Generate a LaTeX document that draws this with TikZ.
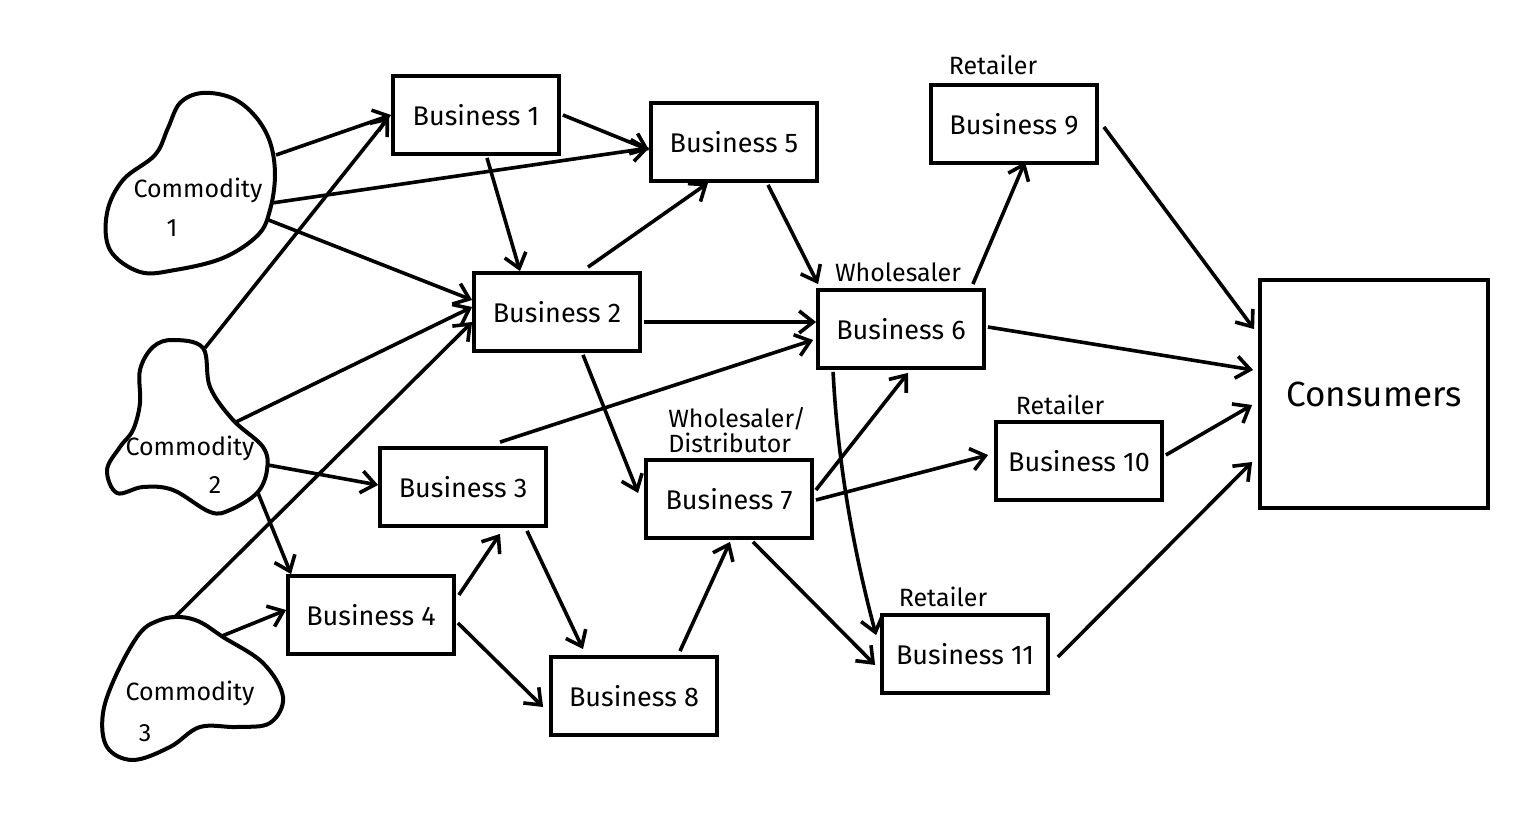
\documentclass[tikz,border=0pt]{standalone}
\usepackage{fontspec}
\setmainfont{Fira Sans}
\usetikzlibrary{arrows.meta,calc}
\tikzset{
  biz/.style={draw, line width=1.9pt, minimum width=83pt, minimum height=39pt, inner sep=0pt, font=\fontsize{13.5}{15}\selectfont},
  blob/.style={line width=2pt},
  lbl/.style={inner sep=0pt, font=\fontsize{12.5}{12.5}\selectfont},
  ctext/.style={inner sep=0pt, align=center, font=\fontsize{12.5}{15}\selectfont},
  arr/.style={line width=1.8pt, -{Straight Barb[length=7pt,width=11pt,line width=1.8pt]}}
}
\begin{document}
\begin{tikzpicture}[x=0.5pt,y=-0.5pt]
\path[use as bounding box] (0,0) rectangle (1536,822);
% commodity blobs
\draw[blob] plot[smooth cycle, tension=0.6] coordinates {(202,93) (232,98) (255,116) (270,142) (275,175) (270,210) (258,235) (223,258) (175,270) (140,272) (110,250) (107,213) (123,180) (155,155) (168,128) (180,103)};
\draw[blob] plot[smooth cycle, tension=0.6] coordinates {(173,340) (203,348) (210,387) (233,420) (263,447) (267,470) (257,493) (230,510) (210,512) (173,490) (143,487) (117,493) (107,470) (120,447) (133,430) (140,403) (140,370) (153,347)};
\draw[blob] plot[smooth cycle, tension=0.6] coordinates {(180,617) (200,622) (223,637) (263,663) (283,697) (270,723) (237,727) (200,727) (170,747) (133,760) (107,747) (103,713) (117,673) (140,633) (160,620)};
\node[ctext] (c1t) at (198,190) {Commodity};
\node[ctext] (c1n) at (172,228) {1};
\node[ctext] (c2t) at (190,448) {Commodity};
\node[ctext] (c2n) at (215,485) {2};
\node[ctext] (c3t) at (190,693) {Commodity};
\node[ctext] (c3n) at (145,733) {3};
\coordinate (c1a) at (276,155);
\coordinate (c1b) at (272,203);
\coordinate (c1c) at (266,219);
\coordinate (c2a) at (205,348);
\coordinate (c2b) at (236,422);
\coordinate (c2c) at (268,465);
\coordinate (c2d) at (258,493);
\coordinate (c3a) at (175,617);
\coordinate (c3b) at (222,636);
% boxes
\node[biz] (b1) at (476,115) {Business 1};
\node[biz] (b5) at (734,142) {Business 5};
\node[biz] (b9) at (1014,124) {Business 9};
\node[biz] (b2) at (557,312) {Business 2};
\node[biz] (b6) at (901,329) {Business 6};
\node[biz] (b10) at (1079,461) {Business 10};
\node[biz] (b3) at (463,487) {Business 3};
\node[biz] (b7) at (729,499) {Business 7};
\node[biz] (b4) at (371,615) {Business 4};
\node[biz] (b8) at (634,696) {Business 8};
\node[biz] (b11) at (965,654) {Business 11};
\node[draw, line width=1.9pt, minimum width=114pt, minimum height=114pt, inner sep=0pt, font=\fontsize{17.5}{20}\selectfont] (cons) at (1374,394) {Consumers};
% labels
\node[lbl] (l9) at (993,65) {Retailer};
\node[lbl] (l6) at (898,272) {Wholesaler};
\node[lbl] (l10) at (1060,405) {Retailer};
\node[lbl, align=left] (l7) at (737,430) {Wholesaler/\\Distributor};
\node[lbl] (l11) at (943,597) {Retailer};
% connectors
\draw[arr] (c1a) -- (b1.west);
\draw[arr] (c1b) -- ($(b5.west)+(0,6)$);
\draw[arr] (c1c) -- ($(b2.west)+(0,-12)$);
\draw[arr] (c2a) -- ($(b1.west)+(-2,2)$);
\draw[arr] (c2b) -- ($(b2.west)+(0,-5)$);
\draw[arr] (c2c) -- ($(b3.west)+(0,-2)$);
\draw[arr] (c2d) -- ($(b4.north west)+(5,0)$);
\draw[arr] (c3a) -- ($(b2.west)+(0,10)$);
\draw[arr] (c3b) -- ($(b4.west)+(0,-5)$);
\draw[arr] ($(b1.east)+(2,0)$) -- ($(b5.west)+(0,8)$);
\draw[arr] ($(b1.south)+(11,2)$) -- ($(b2.north)+(-37,0)$);
\draw[arr] ($(b2.north)+(31,-4)$) -- ($(b5.south)+(-26,0)$);
\draw[arr] ($(b2.east)+(2,10)$) -- ($(b6.west)+(0,-7)$);
\draw[arr] ($(b2.south)+(26,2)$) -- ($(b7.west)+(-6,-6)$);
\draw[arr] ($(b5.south)+(34,2)$) -- ($(b6.north west)+(2,-4)$);
\draw[arr] ($(b3.north)+(37,-4)$) -- ($(b6.west)+(-3,11)$);
\draw[arr] ($(b3.south)+(64,3)$) -- ($(b8.north)+(-51,-6)$);
\draw[arr] ($(b4.east)+(3,-20)$) -- ($(b3.south)+(37,6)$);
\draw[arr] ($(b4.east)+(2,8)$) -- ($(b8.west)+(-6,11)$);
\draw[arr] ($(b8.north)+(46,-4)$) -- ($(b7.south)+(1,2)$);
\draw[arr] ($(b7.east)+(2,-9)$) -- ($(b6.south)+(7,3)$);
\draw[arr] ($(b7.east)+(2,1)$) -- ($(b10.west)+(-6,-6)$);
\draw[arr] ($(b7.south)+(24,2)$) -- ($(b11.west)+(-5,11)$);
\draw[arr] ($(b6.south west)+(17,2)$) .. controls (838,470) and (856,560) .. ($(b11.north west)+(-4,22)$);
\draw[arr] ($(b6.north east)+(-13,-4)$) -- ($(b9.south)+(11,-3)$);
\draw[arr] ($(b6.east)+(2,-2)$) -- ($(cons.west)+(-5,-24)$);
\draw[arr] ($(b9.east)+(5,3)$) -- ($(cons.north west)+(-4,51)$);
\draw[arr] ($(b10.east)+(2,-6)$) -- ($(cons.west)+(-6,11)$);
\draw[arr] ($(b11.east)+(8,3)$) -- ($(cons.west)+(-6,68)$);
\end{tikzpicture}
\end{document}
